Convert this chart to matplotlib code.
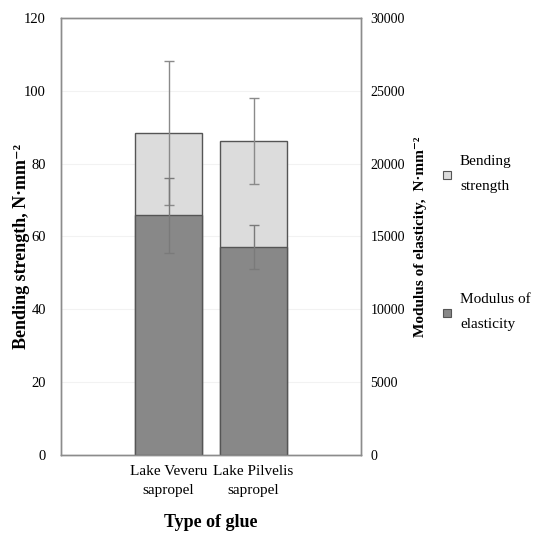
import numpy as np
import matplotlib.pyplot as plt
from matplotlib.patches import Rectangle

plt.rcParams['font.family'] = ['Liberation Serif', 'DejaVu Serif']

glues = ['Lake Veveru\nsapropel', 'Lake Pilvelis\nsapropel']
bending = [88.4, 86.3]          # N·mm-2
bending_err = [19.7, 11.8]
modulus = [16440, 14280]        # N·mm-2
modulus_err = [2600, 1510]
legend_labels = ['Bending\nstrength', 'Modulus of\nelasticity']

x = np.arange(len(glues))
w = 0.78
light, dark, edge = '#dcdcdc', '#888888', '#555555'

fig = plt.figure(figsize=(5.33, 5.34), dpi=100)
ax = fig.add_axes([0.115, 0.1474, 0.562, 0.8195])
ax2 = ax.twinx()

# bending strength bars (behind)
ax.bar(x, bending, w, color=light, edgecolor=edge, linewidth=1.0, zorder=2)
# modulus bars in front, on the right axis
ax2.set_zorder(ax.get_zorder() + 1)
ax2.patch.set_visible(False)
ax2.bar(x, modulus, w, color=dark, edgecolor=edge, linewidth=1.0, zorder=2)

ax2.errorbar(x, modulus, yerr=modulus_err, fmt='none', ecolor='#7a7a7a',
             elinewidth=1.0, capsize=3.5, capthick=1.0, zorder=4)
# bending error bars (scaled to the right axis so they sit on top)
ax2.errorbar(x, np.array(bending) * 250, yerr=np.array(bending_err) * 250, fmt='none',
             ecolor='#8a8a8a', elinewidth=1.0, capsize=3.5, capthick=1.0, zorder=3)

ax.set_xlim(-1.26, 2.26)
ax.set_ylim(0, 120)
ax.set_yticks(np.arange(0, 121, 20))
ax2.set_ylim(0, 30000)
ax2.set_yticks(np.arange(0, 30001, 5000))
ax.grid(axis='y', color='#f2f2f2', linewidth=0.8, zorder=0)
ax.set_axisbelow(True)

ax.set_xticks(x)
ax.set_xticklabels(glues, fontsize=11, linespacing=1.6)
ax.tick_params(axis='x', length=0, pad=7)
ax.tick_params(axis='y', length=0, pad=11, labelsize=10.5)
ax2.tick_params(axis='y', length=0, pad=7, labelsize=10)

for a in (ax, ax2):
    for s in a.spines.values():
        s.set_color('#8c8c8c')
        s.set_linewidth(1.0)

ax.set_ylabel('Bending strength, N·mm⁻²', fontsize=13, fontweight='bold')
ax.yaxis.set_label_coords(-0.105, 0.478)
ax2.set_ylabel('Modulus of elasticity,  N·mm⁻²', fontsize=11, fontweight='bold')
ax2.yaxis.set_label_coords(1.177, 0.5)
ax.set_xlabel('Type of glue', fontsize=13, fontweight='bold')
ax.xaxis.set_label_coords(0.5, -0.134)

# legend drawn by hand so the two-line labels can be spaced like the original
W, H = fig.get_size_inches() * fig.dpi
for lab, col, yc in zip(legend_labels, [light, dark], [175, 313]):
    sq = 8
    fig.patches.append(Rectangle(((447 - sq / 2) / W, 1 - (yc + sq / 2) / H), sq / W, sq / H,
                                 transform=fig.transFigure, facecolor=col,
                                 edgecolor=edge, linewidth=0.8))
    fig.text(460 / W, 1 - (yc - 1) / H, lab, fontsize=11, ha='left', va='center',
             linespacing=2.15)

fig.savefig('out.png', dpi=100)
